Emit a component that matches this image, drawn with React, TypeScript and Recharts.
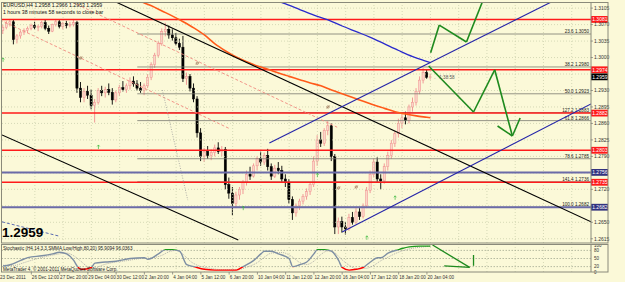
import React from "react";
import { ComposedChart, Bar, Line, XAxis, YAxis, ReferenceLine, Scatter } from "recharts";

// EURUSD H4, 23 Dec 2011 - 20 Jan 2012
const opens = [
  1.3058, 1.3064, 1.3072, 1.3076, 1.3038, 1.3046, 1.3054, 1.3058, 1.3062, 1.3068,
  1.3064, 1.3066, 1.3074, 1.3062, 1.3056, 1.307, 1.3076, 1.3066, 1.3072, 1.3068,
  1.307, 1.3074, 1.2935, 1.2915, 1.2928, 1.292, 1.2898, 1.2905, 1.293, 1.2925,
  1.2932, 1.2926, 1.291, 1.2925, 1.2936, 1.2932, 1.294, 1.295, 1.2944, 1.2935,
  1.293, 1.294, 1.2958, 1.2985, 1.3005, 1.303, 1.3055, 1.306, 1.3048, 1.3042,
  1.303, 1.3022, 1.2955, 1.296, 1.2935, 1.2912, 1.284, 1.279, 1.28, 1.2792,
  1.2798, 1.2808, 1.28, 1.2805, 1.273, 1.2712, 1.269, 1.2708, 1.272, 1.2735,
  1.2752, 1.2748, 1.277, 1.2785, 1.2778, 1.2792, 1.2768, 1.2748, 1.2765, 1.276,
  1.2742, 1.2735, 1.2698, 1.267, 1.2685, 1.2695, 1.2705, 1.2715, 1.273, 1.278,
  1.2825, 1.2818, 1.2845, 1.2855, 1.279, 1.264, 1.2652, 1.264, 1.2636, 1.266,
  1.265, 1.2672, 1.2662, 1.2685, 1.2718, 1.2752, 1.2778, 1.2742, 1.2738, 1.2768,
  1.2792, 1.2818, 1.2838, 1.286, 1.2872, 1.2866, 1.2895, 1.2905, 1.2928, 1.2952,
  1.2968, 1.2958,
];
const highs = [
  1.307, 1.3078, 1.3082, 1.308, 1.305, 1.3058, 1.3062, 1.3066, 1.3072, 1.3076,
  1.307, 1.3078, 1.308, 1.3068, 1.3072, 1.3082, 1.308, 1.3076, 1.3078, 1.3076,
  1.3082, 1.3078, 1.2948, 1.2935, 1.294, 1.2932, 1.2912, 1.2935, 1.294, 1.2938,
  1.2945, 1.2935, 1.293, 1.2942, 1.295, 1.2945, 1.2958, 1.296, 1.2952, 1.2948,
  1.2945, 1.2965, 1.299, 1.301, 1.3035, 1.3062, 1.3074, 1.3068, 1.306, 1.3052,
  1.304, 1.3046, 1.2968, 1.2965, 1.2945, 1.2918, 1.285, 1.2808, 1.2812, 1.2805,
  1.2815, 1.282, 1.2812, 1.281, 1.2745, 1.2725, 1.2715, 1.2725, 1.274, 1.276,
  1.2768, 1.2775, 1.279, 1.28, 1.2798, 1.2806, 1.2775, 1.2772, 1.2778, 1.277,
  1.2752, 1.2742, 1.2705, 1.269, 1.27, 1.271, 1.2722, 1.2735, 1.279, 1.2835,
  1.2842, 1.285, 1.2865, 1.286, 1.2795, 1.266, 1.2662, 1.265, 1.2668, 1.2672,
  1.268, 1.268, 1.269, 1.2725, 1.276, 1.2785, 1.2788, 1.2752, 1.2775, 1.28,
  1.2825, 1.2845, 1.287, 1.288, 1.2885, 1.29, 1.2915, 1.2935, 1.296, 1.2978,
  1.2975, 1.2966,
];
const lows = [
  1.305, 1.306, 1.3066, 1.3028, 1.303, 1.304, 1.3048, 1.3052, 1.3058, 1.306,
  1.3056, 1.3062, 1.3058, 1.305, 1.3054, 1.3066, 1.3062, 1.306, 1.3062, 1.3064,
  1.3066, 1.2925, 1.2905, 1.2905, 1.2912, 1.289, 1.2862, 1.29, 1.2918, 1.2915,
  1.292, 1.29, 1.2905, 1.2918, 1.2928, 1.2925, 1.2932, 1.2938, 1.293, 1.2925,
  1.292, 1.2935, 1.2952, 1.2978, 1.3, 1.3025, 1.3045, 1.304, 1.3036, 1.3026,
  1.3016, 1.2948, 1.2942, 1.2928, 1.2905, 1.283, 1.278, 1.2778, 1.2785, 1.2782,
  1.279, 1.2795, 1.279, 1.272, 1.27, 1.2665, 1.268, 1.2698, 1.271, 1.2728,
  1.274, 1.2745, 1.276, 1.277, 1.2772, 1.276, 1.274, 1.2744, 1.2752, 1.2735,
  1.2725, 1.269, 1.2655, 1.2662, 1.2676, 1.2688, 1.2698, 1.2708, 1.2725, 1.277,
  1.281, 1.2812, 1.2835, 1.278, 1.2625, 1.2625, 1.2628, 1.2624, 1.2632, 1.2645,
  1.2646, 1.2655, 1.2658, 1.268, 1.2712, 1.2745, 1.2735, 1.272, 1.2732, 1.276,
  1.2785, 1.281, 1.283, 1.285, 1.2858, 1.286, 1.2885, 1.2898, 1.2922, 1.2945,
  1.2955, 1.2953,
];
const closes = [
  1.3064, 1.3072, 1.3076, 1.3038, 1.3046, 1.3054, 1.3058, 1.3062, 1.3068, 1.3064,
  1.3066, 1.3074, 1.3062, 1.3056, 1.307, 1.3076, 1.3066, 1.3072, 1.3068, 1.307,
  1.3074, 1.2935, 1.2915, 1.2928, 1.292, 1.2898, 1.2905, 1.293, 1.2925, 1.2932,
  1.2926, 1.291, 1.2925, 1.2936, 1.2932, 1.294, 1.295, 1.2944, 1.2935, 1.293,
  1.294, 1.2958, 1.2985, 1.3005, 1.303, 1.3055, 1.306, 1.3048, 1.3042, 1.303,
  1.3022, 1.2955, 1.296, 1.2935, 1.2912, 1.284, 1.279, 1.28, 1.2792, 1.2798,
  1.2808, 1.28, 1.2805, 1.273, 1.2712, 1.269, 1.2708, 1.272, 1.2735, 1.2752,
  1.2748, 1.277, 1.2785, 1.2778, 1.2792, 1.2768, 1.2748, 1.2765, 1.276, 1.2742,
  1.2735, 1.2698, 1.267, 1.2685, 1.2695, 1.2705, 1.2715, 1.273, 1.278, 1.2825,
  1.2818, 1.2845, 1.2855, 1.279, 1.264, 1.2652, 1.264, 1.2636, 1.266, 1.265,
  1.2672, 1.2662, 1.2685, 1.2718, 1.2752, 1.2778, 1.2742, 1.2738, 1.2768, 1.2792,
  1.2818, 1.2838, 1.286, 1.2872, 1.2866, 1.2895, 1.2905, 1.2928, 1.2952, 1.2968,
  1.2958, 1.2959,
];

// moving averages, read at every few bars: [bar, price]
const maFast: [number, number][] = [
  [33, 1.314], [36, 1.3129], [39, 1.3119], [42, 1.311], [45, 1.3099], [48, 1.3088],
  [51, 1.3076], [54, 1.3063], [57, 1.3048], [60, 1.3029], [63, 1.3014], [66, 1.3001],
  [69, 1.2991], [72, 1.2982], [75, 1.2975], [78, 1.2967], [81, 1.296], [84, 1.2953],
  [87, 1.2946], [90, 1.294], [93, 1.2931], [96, 1.2923], [99, 1.2915], [102, 1.2907],
  [105, 1.2899], [108, 1.2892], [111, 1.2885], [114, 1.288], [117, 1.2876], [120, 1.2873],
  [121, 1.2872],
];
const maSlow: [number, number][] = [
  [72, 1.3135], [77, 1.3122], [80, 1.3114], [84, 1.3102], [88, 1.309], [92, 1.308],
  [96, 1.3067], [100, 1.3055], [104, 1.3043], [108, 1.3029], [112, 1.3015], [116, 1.3002],
  [119, 1.2994], [121, 1.2989],
];

// stochastic %K and %D, [bar, value]
const stochK: [number, number][] = [
  [0, 22], [2, 27], [5, 43], [7, 53], [11, 60], [14, 67], [16, 73], [18, 67], [20, 43],
  [21, 22], [22, 10], [23, 10], [25, 17], [26, 33], [29, 37], [32, 40], [36, 50], [40, 53],
  [41, 47], [44, 67], [46, 83], [48, 83], [50, 77], [52, 27], [54, 20], [57, 10], [60, 7],
  [66, 7], [68, 20], [71, 43], [73, 67], [74, 77], [76, 77], [78, 67], [81, 50], [82, 20],
  [84, 27], [86, 37], [88, 67], [89, 83], [91, 83], [93, 77], [95, 43], [96, 17], [98, 7],
  [100, 10], [102, 17], [104, 37], [106, 53], [107, 53], [109, 70], [112, 83], [113, 87],
  [115, 93], [118, 96], [121, 95.9],
];
const stochD: [number, number][] = [
  [0, 25], [3, 24], [6, 35], [9, 47], [12, 57], [15, 65], [18, 70], [20, 60], [22, 40],
  [24, 20], [26, 15], [28, 25], [31, 35], [35, 42], [39, 50], [42, 52], [45, 62], [47, 75],
  [49, 80], [51, 65], [53, 40], [55, 25], [58, 15], [62, 9], [67, 10], [69, 18], [72, 35],
  [74, 55], [76, 70], [79, 72], [82, 55], [84, 35], [86, 28], [88, 40], [90, 65], [92, 78],
  [94, 70], [96, 45], [98, 25], [100, 12], [103, 14], [105, 25], [107, 42], [109, 55],
  [111, 68], [113, 78], [116, 88], [119, 93], [121, 96],
];

// axis labels
const dateTicks = [0, 9, 17, 25, 33, 41, 49, 57, 65, 73, 81, 89, 97, 105, 113, 121];
const dateLabels = [
  "23 Dec 2011", "26 Dec 12:00", "27 Dec 20:00", "29 Dec 04:00", "30 Dec 12:00", "2 Jan 20:00",
  "4 Jan 04:00", "5 Jan 12:00", "6 Jan 20:00", "10 Jan 04:00", "11 Jan 12:00", "12 Jan 20:00",
  "16 Jan 04:00", "17 Jan 12:00", "18 Jan 20:00", "20 Jan 04:00",
];
const gridBars = [9, 17, 25, 33, 41, 49, 57, 65, 73, 81, 89, 97, 105, 113, 121, 129, 137, 145, 153, 161];
const priceGrid = [1.3105, 1.307, 1.3035, 1.3, 1.2965, 1.293, 1.2895, 1.286, 1.2825, 1.279, 1.2755, 1.272, 1.2685, 1.265, 1.2615];
const priceTicks = [1.3105, 1.307, 1.3035, 1.3, 1.293, 1.2895, 1.286, 1.2825, 1.279, 1.272, 1.265, 1.2615];
const stochTicks = [0, 20, 50, 80, 100];
const stochLevels = [20, 50, 80];

// drawn objects
const redLevels = [1.3081, 1.2974, 1.2882, 1.2803, 1.2735];
const blueLevels = [1.2756, 1.2682];
const lastPrice = 1.2959;
const fibLevels = [1.305, 1.298, 1.2923, 1.2866, 1.2785, 1.2682, 1.2883, 1.2736];
const fibNames = ["23.6", "38.2", "50.0", "61.8", "78.6", "100.0", "127.2", "141.4"];
const fibStartBar = 38;

type Seg = [[number, number], [number, number]];
const blackTrends: Seg[] = [
  [[30.8, 1.3122], [166.46, 1.2651]],
  [[-0.3, 1.28355], [66.6, 1.26125]],
];
const blueTrends: Seg[] = [
  [[75.4, 1.28185], [155.2, 1.3118]],
  [[96.0, 1.26294], [166.46, 1.29013]],
];
const pinkDashed: Seg[] = [
  [[18.4, 1.3122], [94.6, 1.2852]],
  [[-0.85, 1.308], [64.4, 1.2848]],
];
const grayDotted: Seg[] = [[[45.1, 1.2931], [52.3, 1.2697]]];
const blueDashed: Seg[] = [[[-0.3, 1.2651], [15.66, 1.2621]]];
const waveUp: [number, number][] = [[121.05, 1.301], [123.5, 1.3069], [131.2, 1.3033], [135.9, 1.3122]];
const waveDown: [number, number][] = [[120.5, 1.2982], [133.2, 1.28843], [139.2, 1.2974], [144.2, 1.28334], [146.4, 1.28716]];
const waveArm: [number, number][] = [[140.0, 1.28546], [144.2, 1.28334]];
const stochDrawn: Seg[] = [
  [[121.6, 100], [132.1, 17]],
  [[124.9, 23], [132.1, 17]],
  [[133.2, 63], [133.2, 23]],
];

// small indicator marks on the price panel: [bar, price]
const greenMarks: [number, number][] = [[0, 1.2995], [27, 1.281], [68, 1.268], [89, 1.275], [103, 1.2617], [111, 1.2702]];
const brownMarks: [number, number][] = [[22, 1.2999], [55, 1.2988], [92, 1.2895], [95, 1.2723], [100, 1.2725]];
const timerText = "\u2190 1:38:58";

const rows = opens.map((o, i) => ({
  i, o, h: highs[i], l: lows[i], c: closes[i],
  ma1: null as number | null, ma2: null as number | null,
}));
maFast.forEach(([i, v]) => { rows[i].ma1 = v; });
maSlow.forEach(([i, v]) => { rows[i].ma2 = v; });

const stochRows = opens.map((_, i) => ({ i, k: null as number | null, d: null as number | null }));
stochK.forEach(([i, v]) => { stochRows[i].k = v; });
stochD.forEach(([i, v]) => { stochRows[i].d = v; });

const greenData = greenMarks.map(([i, p]) => ({ i, p }));
const brownData = brownMarks.map(([i, p]) => ({ i, p }));

const toSegs = (pts: [number, number][]): Seg[] => pts.slice(1).map((p, j) => [pts[j], p]);

const BG = "#fbf9d8";
const GRID = "#c6cca8";
const FONT = "Liberation Sans, Arial, sans-serif";
const X_DOMAIN: [number, number] = [-0.3, 166.46];

function Candle(props: any) {
  const { x, y, width, height, payload } = props;
  if (!payload || payload.h == null) return null;
  const top = Math.min(y, y + height);
  const span = Math.abs(height);
  const range = payload.h - payload.l;
  const py = (p: number) => top + (range === 0 ? 0 : ((payload.h - p) / range) * span);
  const cx = x + width / 2;
  const up = payload.c >= payload.o;
  const bTop = py(Math.max(payload.o, payload.c));
  const bH = Math.max(0.8, py(Math.min(payload.o, payload.c)) - bTop);
  const col = up ? "#ef8f8f" : "#000000";
  return (
    <g>
      <line x1={cx} x2={cx} y1={top} y2={top + span} stroke={col} strokeWidth={0.9} />
      <rect x={cx - 1.1} y={bTop} width={2.2} height={bH} fill={up ? "#fbd6c8" : "#000"} stroke={col} strokeWidth={0.5} />
    </g>
  );
}

function GreenMark({ cx, cy }: any) {
  if (cx == null) return null;
  return (
    <g stroke="#3cb83c" strokeWidth={0.7} fill="none">
      <path d={`M${cx - 1.3},${cy - 0.5} L${cx},${cy - 2} L${cx + 1.3},${cy - 0.5} M${cx},${cy - 2} L${cx},${cy + 2}`} />
    </g>
  );
}

function BrownMark({ cx, cy }: any) {
  if (cx == null) return null;
  return (
    <g stroke="#a0785a" strokeWidth={0.7} fill="none">
      <circle cx={cx} cy={cy} r={1.2} />
      <line x1={cx - 1.5} y1={cy + 1.5} x2={cx + 1.5} y2={cy - 1.5} />
    </g>
  );
}

function PriceTick({ x, y, payload }: any) {
  return (
    <g>
      <line x1={x - 2} x2={x} y1={y} y2={y} stroke="#666" strokeWidth={0.6} />
      <text x={x + 1} y={y + 1.8} fontSize={5} fill="#333" fontFamily={FONT}>
        {Number(payload.value).toFixed(4)}
      </text>
    </g>
  );
}

function StochTick({ x, y, payload }: any) {
  return (
    <text x={x + 1} y={y + 1.8} fontSize={4.5} fill="#333" fontFamily={FONT}>
      {payload.value}
    </text>
  );
}

function DateTick({ x, y, payload }: any) {
  const label = dateLabels[dateTicks.indexOf(payload.value)];
  return (
    <g>
      <line x1={x - 3.5} x2={x - 3.5} y1={y} y2={y + 2.5} stroke="#555" strokeWidth={0.6} />
      <text x={x - 3} y={y + 6.5} fontSize={4.6} fill="#333" fontFamily={FONT}>{label}</text>
    </g>
  );
}

const boxLabel = (text: string, fill: string) => (p: any) => {
  const vb = p.viewBox || {};
  const right = (vb.x ?? 0) + (vb.width ?? 0);
  const yy = vb.y ?? 0;
  return (
    <g>
      <rect x={right} y={yy - 3.4} width={17} height={6.8} fill={fill} />
      <text x={right + 1.2} y={yy + 1.8} fontSize={5} fill="#ffffff" fontFamily={FONT}>{text}</text>
    </g>
  );
};

const fibLabel = (text: string) => (p: any) => {
  const vb = p.viewBox || {};
  const right = (vb.x ?? 0) + (vb.width ?? 0);
  return (
    <text x={right - 2} y={(vb.y ?? 0) - 1} textAnchor="end" fontSize={4.6} fill="#222" fontFamily={FONT}>
      {text}
    </text>
  );
};

const timerLabel = (p: any) => {
  const vb = p.viewBox || {};
  return (
    <text x={(vb.x ?? 0) + 3} y={(vb.y ?? 0) + 2} fontSize={4.6} fill="#555" fontFamily={FONT}>
      {timerText}
    </text>
  );
};

export default function App() {
  return (
    <div style={{ position: "absolute", left: 0, top: 0, width: 625, height: 282, background: BG, overflow: "hidden" }}>
      <div style={{ position: "absolute", left: 0, top: 0 }}>
        <ComposedChart width={625} height={245} data={rows} margin={{ top: 2, right: 17, bottom: 2, left: 2 }}>
          <XAxis type="number" dataKey="i" domain={X_DOMAIN} allowDataOverflow hide />
          <YAxis
            orientation="right"
            width={17}
            domain={[1.2606, 1.3118]}
            allowDataOverflow
            ticks={priceTicks}
            tick={<PriceTick />}
            tickSize={0}
            tickMargin={2}
            axisLine={{ stroke: "#8a8a7a" }}
            interval={0}
          />
          {gridBars.map((b) => (
            <ReferenceLine key={"gv" + b} x={b} stroke={GRID} strokeDasharray="1 2" strokeWidth={0.7} />
          ))}
          {priceGrid.map((v) => (
            <ReferenceLine key={"gh" + v} y={v} stroke={GRID} strokeDasharray="1 2" strokeWidth={0.7} />
          ))}
          {fibLevels.map((v, j) => (
            <ReferenceLine
              key={"fib" + j}
              segment={[{ x: fibStartBar, y: v }, { x: X_DOMAIN[1], y: v }]}
              stroke="#7a7a70"
              strokeWidth={0.8}
              ifOverflow="hidden"
              label={fibLabel(`${fibNames[j]} ${v.toFixed(4)}`)}
            />
          ))}
          {blueLevels.map((v) => (
            <ReferenceLine key={"bl" + v} y={v} stroke="#6b6ba8" strokeWidth={2} label={boxLabel(v.toFixed(4), "#33337f")} />
          ))}
          {redLevels.map((v) => (
            <ReferenceLine key={"rl" + v} y={v} stroke="#ff1a1a" strokeWidth={1.5} label={boxLabel(v.toFixed(4), "#ff1a1a")} />
          ))}
          <ReferenceLine y={lastPrice} stroke="none" label={boxLabel(lastPrice.toFixed(4), "#000000")} />
          {pinkDashed.map((s, j) => (
            <ReferenceLine key={"pd" + j} segment={[{ x: s[0][0], y: s[0][1] }, { x: s[1][0], y: s[1][1] }]} stroke="#f08a80" strokeDasharray="3 2" strokeWidth={0.9} ifOverflow="hidden" />
          ))}
          {grayDotted.map((s, j) => (
            <ReferenceLine key={"gd" + j} segment={[{ x: s[0][0], y: s[0][1] }, { x: s[1][0], y: s[1][1] }]} stroke="#9a9a9a" strokeDasharray="1 1.5" strokeWidth={0.8} ifOverflow="hidden" />
          ))}
          {blueDashed.map((s, j) => (
            <ReferenceLine key={"bd" + j} segment={[{ x: s[0][0], y: s[0][1] }, { x: s[1][0], y: s[1][1] }]} stroke="#5a6ab0" strokeDasharray="3 2" strokeWidth={1} ifOverflow="hidden" />
          ))}
          <Bar dataKey={(d: any) => [d.l, d.h]} shape={Candle} barSize={3} isAnimationActive={false} />
          <Line dataKey="ma1" type="monotone" stroke="#ff5a1a" strokeWidth={1.6} dot={false} connectNulls isAnimationActive={false} />
          <Line dataKey="ma2" type="monotone" stroke="#2a2acc" strokeWidth={1.3} dot={false} connectNulls isAnimationActive={false} />
          <Scatter data={greenData} dataKey="p" shape={GreenMark} isAnimationActive={false} />
          <Scatter data={brownData} dataKey="p" shape={BrownMark} isAnimationActive={false} />
          {blackTrends.map((s, j) => (
            <ReferenceLine key={"bt" + j} segment={[{ x: s[0][0], y: s[0][1] }, { x: s[1][0], y: s[1][1] }]} stroke="#000" strokeWidth={1.1} ifOverflow="hidden" />
          ))}
          {blueTrends.map((s, j) => (
            <ReferenceLine key={"ut" + j} segment={[{ x: s[0][0], y: s[0][1] }, { x: s[1][0], y: s[1][1] }]} stroke="#2424a8" strokeWidth={1.1} ifOverflow="hidden" />
          ))}
          {[...toSegs(waveUp), ...toSegs(waveDown), ...toSegs(waveArm)].map((s, j) => (
            <ReferenceLine key={"gw" + j} segment={[{ x: s[0][0], y: s[0][1] }, { x: s[1][0], y: s[1][1] }]} stroke="#1e8a1e" strokeWidth={1.6} ifOverflow="hidden" />
          ))}
          <ReferenceLine segment={[{ x: 121, y: lastPrice }, { x: 121.5, y: lastPrice }]} stroke="none" ifOverflow="hidden" label={timerLabel} />
        </ComposedChart>
      </div>

      <div style={{ position: "absolute", left: 0, top: 244 }}>
        <ComposedChart width={625} height={38} data={stochRows} margin={{ top: 1, right: 17, bottom: 0, left: 2 }}>
          <defs>
            <linearGradient id="stochCol" gradientUnits="userSpaceOnUse" x1="0" y1="1" x2="0" y2="28">
              <stop offset="0" stopColor="#1d9a1d" />
              <stop offset="0.2" stopColor="#1d9a1d" />
              <stop offset="0.2" stopColor="#7d8ea3" />
              <stop offset="0.8" stopColor="#7d8ea3" />
              <stop offset="0.8" stopColor="#ff0000" />
              <stop offset="1" stopColor="#ff0000" />
            </linearGradient>
          </defs>
          <XAxis
            type="number"
            dataKey="i"
            domain={X_DOMAIN}
            allowDataOverflow
            ticks={dateTicks}
            interval={0}
            tick={<DateTick />}
            tickSize={0}
            tickMargin={0}
            height={10}
            axisLine={false}
            tickLine={false}
          />
          <YAxis
            orientation="right"
            width={17}
            domain={[0, 100]}
            ticks={stochTicks}
            tick={<StochTick />}
            tickSize={0}
            tickMargin={2}
            axisLine={{ stroke: "#8a8a7a" }}
            interval={0}
          />
          {gridBars.map((b) => (
            <ReferenceLine key={"sv" + b} x={b} stroke={GRID} strokeDasharray="1 2" strokeWidth={0.7} />
          ))}
          {stochLevels.map((v) => (
            <ReferenceLine key={"sl" + v} y={v} stroke="#9aa08a" strokeDasharray="1.5 1.5" strokeWidth={0.7} />
          ))}
          <Line dataKey="d" type="monotone" stroke="#a0a0a0" strokeDasharray="1 1" strokeWidth={0.8} dot={false} connectNulls isAnimationActive={false} />
          <Line dataKey="k" type="monotone" stroke="url(#stochCol)" strokeWidth={1.4} dot={false} connectNulls isAnimationActive={false} />
          {stochDrawn.map((s, j) => (
            <ReferenceLine key={"sd" + j} segment={[{ x: s[0][0], y: s[0][1] }, { x: s[1][0], y: s[1][1] }]} stroke="#1e8a1e" strokeWidth={1.3} ifOverflow="hidden" />
          ))}
        </ComposedChart>
      </div>

      <svg width={625} height={282} style={{ position: "absolute", left: 0, top: 0, pointerEvents: "none" }}>
        <rect x={1.5} y={2.5} width={606.5} height={240.5} fill="none" stroke="#8a8a7a" strokeWidth={1} />
        <rect x={1.5} y={244.5} width={606.5} height={27.5} fill="none" stroke="#8a8a7a" strokeWidth={1} />
        <text x={3} y={7} fontSize={5.2} fill="#111" fontFamily={FONT}>EURUSD,H4  1.2958 1.2966 1.2953 1.2959</text>
        <text x={3} y={13.5} fontSize={5.2} fill="#111" fontFamily={FONT}>1 hours 38 minutes 58 seconds to close bar</text>
        <text x={2} y={237} fontSize={13.5} fontWeight="bold" fill="#000" fontFamily={FONT}>1.2959</text>
        <text x={3} y={250} fontSize={4.6} fill="#222" fontFamily={FONT}>Stochastic (H4,14,3,3,SMMA,Low/High,80,20) 95.9094 96.0363</text>
        <text x={3} y={271} fontSize={4.6} fill="#222" fontFamily={FONT}>MetaTrader 4, © 2001-2011 MetaQuotes Software Corp.</text>
      </svg>
    </div>
  );
}
